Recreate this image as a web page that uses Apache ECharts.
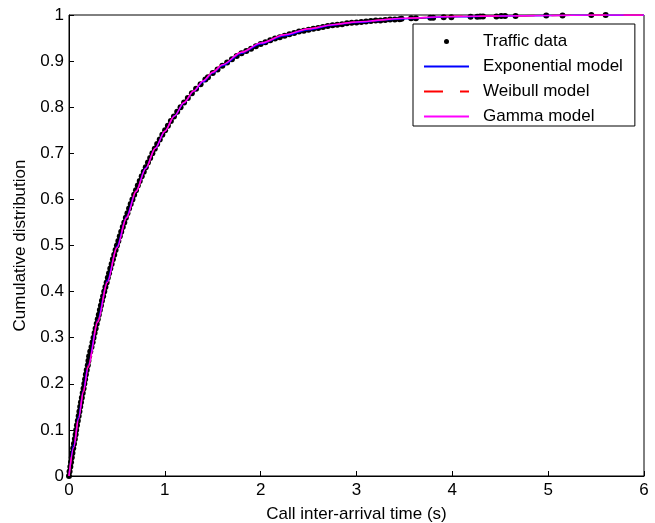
<!DOCTYPE html>
<html>
<head>
<meta charset="utf-8">
<script src="https://cdn.jsdelivr.net/npm/echarts@6/dist/echarts.min.js"></script>
<style>
html,body{margin:0;padding:0;background:#fff;}
#chart{width:655px;height:523px;}
</style>
</head>
<body>
<div id="chart"></div>
<script>
var trafficX = [
0.000,0.006,0.014,0.021,0.029,0.036,0.044,0.052,0.061,0.069,
0.075,0.083,0.092,0.101,0.109,0.117,0.125,0.134,0.143,0.152,
0.160,0.168,0.176,0.185,0.196,0.203,0.210,0.222,0.235,0.246,
0.256,0.267,0.278,0.289,0.300,0.311,0.322,0.333,0.344,0.356,
0.368,0.380,0.393,0.405,0.418,0.431,0.445,0.458,0.472,0.486,
0.500,0.515,0.530,0.545,0.561,0.577,0.593,0.610,0.627,0.644,
0.662,0.680,0.699,0.718,0.738,0.759,0.780,0.801,0.824,0.847,
0.870,0.895,0.920,0.947,0.974,1.003,1.032,1.063,1.095,1.129,
1.164,1.201,1.240,1.282,1.326,1.373,1.423,
1.45,1.50,1.55,1.60,1.65,1.70,1.75,1.80,1.85,1.90,1.95,2.00,2.05,2.10,2.15,2.20,2.25,2.30,2.35,2.40,
2.45,2.50,2.55,2.60,2.65,2.70,2.75,2.80,2.85,2.90,2.95,3.00,3.05,3.10,3.15,3.20,3.25,3.30,3.35,3.40,3.45,
3.47,3.57,3.62,3.77,3.80,3.91,3.99,4.19,4.26,4.29,4.32,4.46,4.51,4.55,4.66,4.98,5.15,5.45,5.60
];
var trafficY = [
0.00,0.01,0.02,0.03,0.04,0.05,0.06,0.07,0.08,0.09,
0.10,0.11,0.12,0.13,0.14,0.15,0.16,0.17,0.18,0.19,
0.20,0.21,0.22,0.23,0.24,0.25,0.26,0.27,0.28,0.29,
0.30,0.31,0.32,0.33,0.34,0.35,0.36,0.37,0.38,0.39,
0.40,0.41,0.42,0.43,0.44,0.45,0.46,0.47,0.48,0.49,
0.50,0.51,0.52,0.53,0.54,0.55,0.56,0.57,0.58,0.59,
0.60,0.61,0.62,0.63,0.64,0.65,0.66,0.67,0.68,0.69,
0.70,0.71,0.72,0.73,0.74,0.75,0.76,0.77,0.78,0.79,
0.80,0.81,0.82,0.83,0.84,0.85,0.86,
0.865,0.874,0.882,0.890,0.897,0.904,0.911,0.917,0.922,0.927,0.932,0.937,0.941,0.945,0.949,0.952,0.955,0.958,0.961,0.964,
0.966,0.968,0.970,0.972,0.974,0.976,0.978,0.979,0.980,0.982,0.983,0.984,0.985,0.986,0.987,0.988,0.988,0.989,0.990,0.990,0.991,
0.992,0.993,0.993,0.994,0.994,0.995,0.995,0.996,0.996,0.997,0.997,0.997,0.998,0.998,0.998,0.999,0.999,1.000,1.000
];

// Fitted model curves
var modelX   = [0,0.05,0.1,0.15,0.2,0.3,0.4,0.5,0.6,0.7,0.8,0.9,1.0,1.1,1.2,1.3,1.4,1.5,1.6,1.8,2.0,2.25,2.5,2.75,3.0,3.5,4.0,4.5,5.0,5.5,6.0];
var expY     = [0,0.067,0.129,0.187,0.241,0.339,0.424,0.498,0.563,0.619,0.668,0.711,0.748,0.781,0.809,0.834,0.855,0.874,0.890,0.917,0.937,0.955,0.968,0.978,0.984,0.992,0.996,0.998,0.999,0.9995,0.9997];
var weibullY = [0,0.064,0.126,0.184,0.238,0.336,0.421,0.496,0.561,0.618,0.667,0.711,0.748,0.781,0.810,0.835,0.857,0.876,0.892,0.919,0.939,0.957,0.970,0.979,0.985,0.993,0.997,0.998,0.999,1.0,1.0];
var gammaY   = [0,0.062,0.124,0.182,0.236,0.334,0.420,0.495,0.560,0.617,0.667,0.711,0.748,0.781,0.810,0.835,0.857,0.876,0.892,0.919,0.939,0.957,0.970,0.979,0.985,0.993,0.997,0.998,0.999,1.0,1.0];

var seriesNames = ['Traffic data','Exponential model','Weibull model','Gamma model'];
var xTicks = {min:0, max:6, interval:1};
var yTicks = {min:0, max:1, interval:0.1};

function zip(xs, ys){ var out=[]; for(var i=0;i<xs.length;i++){ out.push([xs[i], ys[i]]); } return out; }

var FONT = "'Liberation Sans', Arial, Helvetica, sans-serif";
var chart = echarts.init(document.getElementById('chart'), null, {renderer:'canvas'});
var axisCommon = {
  axisLine:{show:true, onZero:false, lineStyle:{color:'#000', width:1}},
  axisTick:{show:true, inside:true, length:5, lineStyle:{color:'#000', width:1}},
  splitLine:{show:false},
  axisLabel:{color:'#000', fontSize:17, fontFamily:FONT},
  nameTextStyle:{color:'#000', fontSize:17, fontFamily:FONT},
  nameLocation:'middle'
};
var hideSym = {opacity:0};
chart.setOption({
  animation:false,
  backgroundColor:'#fff',
  textStyle:{fontFamily:FONT},
  grid:{left:69, right:11, top:15, bottom:47, containLabel:false, outerBoundsMode:'none',
        show:true, borderColor:'#000', borderWidth:1, backgroundColor:'transparent'},
  xAxis: Object.assign({}, axisCommon, {
    type:'value', min:xTicks.min, max:xTicks.max, interval:xTicks.interval,
    name:'Call inter-arrival time (s)', nameGap:30,
    axisLabel:Object.assign({}, axisCommon.axisLabel, {margin:6})
  }),
  yAxis: Object.assign({}, axisCommon, {
    type:'value', min:yTicks.min, max:yTicks.max, interval:yTicks.interval,
    name:'Cumulative distribution', nameGap:40,
    axisLabel:Object.assign({}, axisCommon.axisLabel, {margin:5})
  }),
  legend:{
    show:true, orient:'vertical', left:413, top:24,
    padding:[9,12,1,10], itemGap:8, itemWidth:45, itemHeight:5,
    backgroundColor:'#fff', borderColor:'#000', borderWidth:1, borderRadius:0,
    textStyle:{color:'#000', fontSize:17, fontFamily:FONT, lineHeight:17, padding:[0,0,0,9]},
    data: [
      {name:seriesNames[0]},
      {name:seriesNames[1], itemStyle:hideSym},
      {name:seriesNames[2], itemStyle:hideSym},
      {name:seriesNames[3], itemStyle:hideSym}
    ],
    z:10
  },
  series:[
    {name:seriesNames[0], type:'scatter', data:zip(trafficX, trafficY), symbol:'circle', symbolSize:6,
     itemStyle:{color:'#000', opacity:1}, z:1, clip:false},
    {name:seriesNames[1], type:'line', data:zip(modelX, expY), symbol:'none', smooth:0.3, smoothMonotone:'x',
     lineStyle:{color:'#0000ff', width:1.5}, itemStyle:{color:'#0000ff'}, z:2},
    {name:seriesNames[2], type:'line', data:zip(modelX, weibullY), symbol:'none', smooth:0.3, smoothMonotone:'x',
     lineStyle:{color:'#ff0000', width:1.5, type:[19,17]}, itemStyle:{color:'#ff0000'}, z:3},
    {name:seriesNames[3], type:'line', data:zip(modelX, gammaY), symbol:'none', smooth:0.3, smoothMonotone:'x',
     lineStyle:{color:'#ff00ff', width:1.5}, itemStyle:{color:'#ff00ff'}, z:4}
  ]
});
</script>
</body>
</html>
